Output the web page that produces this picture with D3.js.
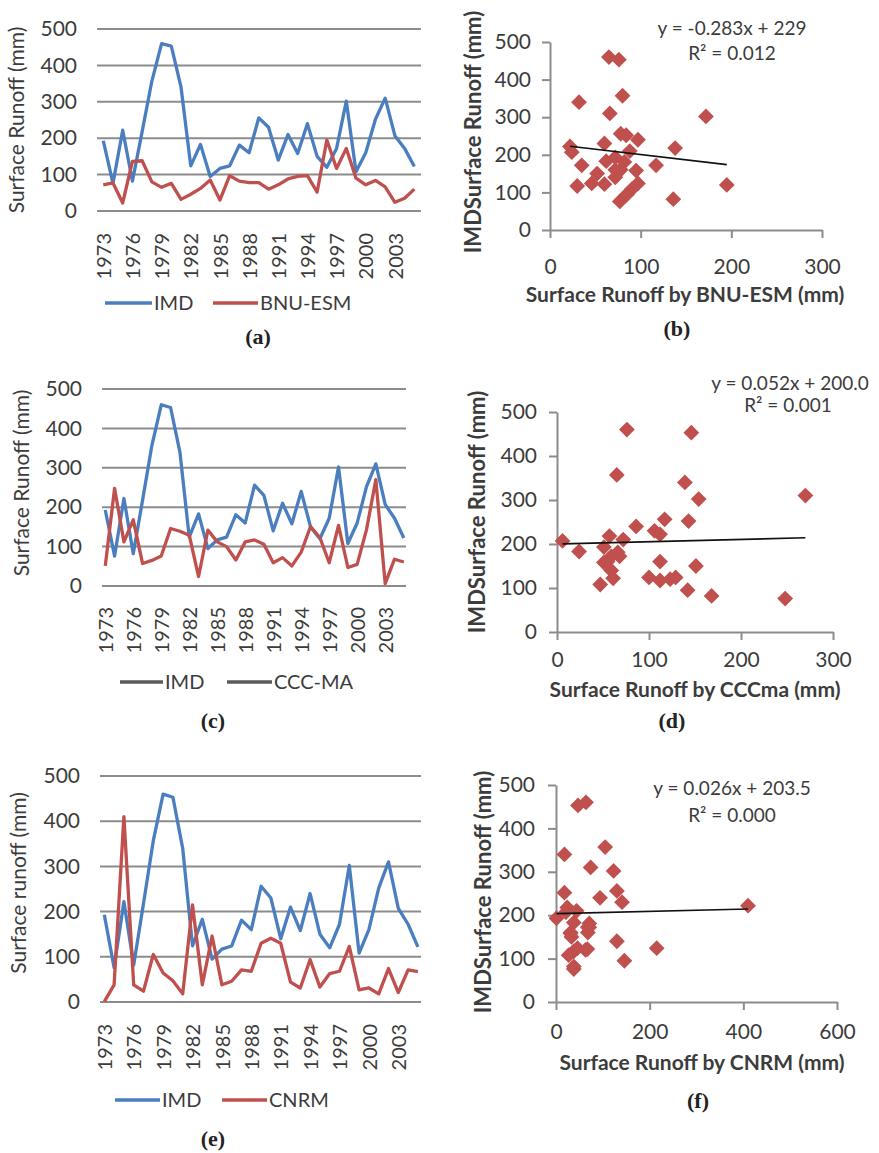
<!DOCTYPE html>
<html>
<head>
<meta charset="utf-8">
<script src="https://cdn.jsdelivr.net/npm/d3@7"></script>
<style>
  body { margin: 0; background: #fff; }
  svg { display: block; }
  text { font-family: Lato, "Open Sans", "Liberation Sans", sans-serif; }
</style>
</head>
<body>
<svg id="fig" width="879" height="1153"></svg>
<script>
// Annual surface runoff (mm), 1973-2005
const years = [1973, 1974, 1975, 1976, 1977, 1978, 1979, 1980, 1981, 1982, 1983,
               1984, 1985, 1986, 1987, 1988, 1989, 1990, 1991, 1992, 1993, 1994,
               1995, 1996, 1997, 1998, 1999, 2000, 2001, 2002, 2003, 2004, 2005];
const imd    = [193, 76, 222, 82, 218, 357, 460, 453, 340, 124, 183, 95, 117, 124, 181, 160,
                256, 230, 140, 210, 158, 240, 150, 120, 172, 302, 108, 160, 252, 310, 207, 172, 122];
const bnuEsm = [72, 77, 22, 136, 138, 80, 65, 76, 32, 46, 62, 85, 30, 97, 82, 78,
                78, 60, 72, 88, 95, 97, 52, 195, 117, 172, 90, 72, 84, 66, 24, 35, 60];
const cccMa  = [51, 248, 112, 168, 57, 65, 76, 146, 139, 129, 24, 142, 112, 100, 66, 112,
                117, 106, 59, 72, 51, 86, 151, 123, 59, 154, 47, 55, 143, 270, 6, 68, 61];
const cnrm   = [1, 38, 410, 38, 24, 105, 64, 47, 18, 215, 38, 146, 38, 46, 71, 68,
                130, 141, 130, 44, 31, 94, 33, 63, 68, 123, 27, 31, 18, 74, 21, 71, 67];

// Axis ticks
const runoffTicks = [0, 100, 200, 300, 400, 500];
const yearTicks = [1973, 1976, 1979, 1982, 1985, 1988, 1991, 1994, 1997, 2000, 2003];
const bnuTicks = [0, 100, 200, 300];
const cccTicks = [0, 100, 200, 300];
const cnrmTicks = [0, 200, 400, 600];

// Linear fits of IMD against each model
const bnuFit = { slope: -0.283, intercept: 229, eq: "y = -0.283x + 229", r2: "R\u00B2 = 0.012" };
const cccFit = { slope: 0.052, intercept: 200.0, eq: "y = 0.052x + 200.0", r2: "R\u00B2 = 0.001" };
const cnrmFit = { slope: 0.026, intercept: 203.5, eq: "y = 0.026x + 203.5", r2: "R\u00B2 = 0.000" };

const BLUE = "#4a7ebf", RED = "#c0504d", GRID = "#8c8c8c", AXIS = "#8c8c8c";
const TXT = "#3c3c3c", LEGEND_GRAY = "#5a5a5a";
const SERIF = "'Liberation Serif', 'DejaVu Serif', serif";

const svg = d3.select("#fig");

function caption(g, pos, label) {
  g.append("text").attr("x", pos[0]).attr("y", pos[1]).attr("dy", "0.35em")
    .attr("text-anchor", "middle").style("font-family", SERIF)
    .attr("font-weight", "bold").attr("font-size", 22).attr("fill", "#222").text(label);
}

function linePanel(o) {
  const g = svg.append("g");
  const x = d3.scalePoint().domain(years).range([o.left, o.right]).padding(0.5);
  const y = d3.scaleLinear().domain([0, 500]).range([o.bottom, o.top]);

  g.selectAll("line.grid").data(runoffTicks).join("line")
    .attr("x1", o.gridL).attr("x2", o.gridR)
    .attr("y1", d => y(d)).attr("y2", d => y(d))
    .attr("stroke", GRID).attr("stroke-width", 2);

  const ya = g.append("g").attr("transform", `translate(${o.gridL},0)`)
    .call(d3.axisLeft(y).tickValues(runoffTicks).tickSize(0).tickPadding(o.gridL - o.yLabelRight));
  ya.select(".domain").remove();
  ya.selectAll("text").attr("font-size", 21).attr("fill", TXT);

  const xa = g.append("g").attr("transform", `translate(0,${o.bottom})`)
    .call(d3.axisBottom(x).tickValues(yearTicks).tickSize(0));
  xa.select(".domain").remove();
  xa.selectAll("text")
    .attr("transform", "rotate(-90)")
    .attr("x", -(o.xLabelTop - o.bottom)).attr("y", 0).attr("dy", "0.36em")
    .attr("text-anchor", "end").attr("font-size", 20).attr("fill", TXT);

  o.series.forEach(s => {
    const line = d3.line().x((d, i) => x(years[i])).y(d => y(d));
    g.append("path").datum(s.values).attr("d", line)
      .attr("fill", "none").attr("stroke", s.color).attr("stroke-width", 3.3)
      .attr("stroke-linejoin", "round");
  });

  g.append("text").attr("transform", `translate(${o.yTitle[0]},${o.yTitle[1]}) rotate(-90)`)
    .attr("text-anchor", "middle").attr("dy", "0.35em").attr("font-size", 21).attr("fill", TXT)
    .text(o.yTitleText);

  o.legend.forEach(l => {
    g.append("line").attr("x1", l.x1).attr("x2", l.x2).attr("y1", o.legendY).attr("y2", o.legendY)
      .attr("stroke", l.color).attr("stroke-width", 3.3);
    g.append("text").attr("x", l.x2 + 2).attr("y", o.legendY).attr("dy", "0.36em")
      .attr("font-size", 20).attr("fill", TXT).text(l.text);
  });

  caption(g, o.caption, o.captionText);
}

function scatterPanel(o) {
  const g = svg.append("g");
  const x = d3.scaleLinear().domain([0, o.xTicks[o.xTicks.length - 1]]).range([o.left, o.right]);
  const y = d3.scaleLinear().domain([0, 500]).range([o.bottom, o.top]);

  const ya = g.append("g").attr("transform", `translate(${o.left},0)`)
    .call(d3.axisLeft(y).tickValues(runoffTicks).tickSize(8).tickSizeOuter(0)
      .tickPadding(o.left - 8 - o.yLabelRight));
  const xa = g.append("g").attr("transform", `translate(0,${o.bottom})`)
    .call(d3.axisBottom(x).tickValues(o.xTicks).tickSize(8).tickSizeOuter(0)
      .tickPadding(o.xLabelY - o.bottom - 8 - 7.5));
  [ya, xa].forEach(a => {
    a.select(".domain").attr("stroke", AXIS).attr("stroke-width", 2);
    a.selectAll(".tick line").attr("stroke", AXIS).attr("stroke-width", 2);
    a.selectAll("text").attr("font-size", 21).attr("fill", TXT);
  });

  const pts = imd.map((v, i) => ({ xv: o.model[i], yv: v }));
  const diamond = d3.symbol().type(d3.symbolSquare).size(125);
  g.selectAll("path.pt").data(pts).join("path")
    .attr("d", diamond)
    .attr("transform", d => `translate(${x(d.xv)},${y(d.yv)}) rotate(45)`)
    .attr("fill", RED);

  const xr = d3.extent(o.model);
  g.append("line")
    .attr("x1", x(xr[0])).attr("y1", y(o.fit.slope * xr[0] + o.fit.intercept))
    .attr("x2", x(xr[1])).attr("y2", y(o.fit.slope * xr[1] + o.fit.intercept))
    .attr("stroke", "#111").attr("stroke-width", 1.6);

  g.append("text").attr("x", o.eq[0]).attr("y", o.eq[1]).attr("dy", "0.35em")
    .attr("text-anchor", "middle").attr("font-size", 19).attr("fill", TXT).text(o.fit.eq);
  g.append("text").attr("x", o.r2[0]).attr("y", o.r2[1]).attr("dy", "0.35em")
    .attr("text-anchor", "middle").attr("font-size", 19).attr("fill", TXT).text(o.fit.r2);

  g.append("text").attr("x", o.xTitle[0]).attr("y", o.xTitle[1]).attr("dy", "0.35em")
    .attr("text-anchor", "middle").attr("font-size", 21).attr("font-weight", "bold")
    .attr("fill", TXT).text(o.xTitleText);
  g.append("text").attr("transform", `translate(${o.yTitle[0]},${o.yTitle[1]}) rotate(-90)`)
    .attr("text-anchor", "middle").attr("dy", "0.35em").attr("font-size", 22)
    .attr("font-weight", "bold").attr("fill", TXT).text("IMDSurface Runoff (mm)");

  caption(g, o.caption, o.captionText);
}

// (a) IMD vs BNU-ESM time series
linePanel({
  left: 98.4, right: 419.2, gridL: 97, gridR: 421, top: 29, bottom: 211,
  yLabelRight: 77, xLabelTop: 233, yTitle: [17, 120], yTitleText: "Surface Runoff (mm)",
  series: [{ values: imd, color: BLUE }, { values: bnuEsm, color: RED }],
  legendY: 303,
  legend: [{ x1: 105, x2: 152, color: BLUE, text: "IMD" }, { x1: 213, x2: 258, color: RED, text: "BNU-ESM" }],
  caption: [258, 336], captionText: "(a)"
});
// (b) scatter IMD vs BNU-ESM
scatterPanel({
  left: 550, right: 822, top: 42, bottom: 230, xTicks: bnuTicks, model: bnuEsm, fit: bnuFit,
  yLabelRight: 531, xLabelY: 267, xTitle: [685, 295], xTitleText: "Surface Runoff by BNU-ESM (mm)",
  yTitle: [473, 132], eq: [732, 28], r2: [732, 53], caption: [677, 328], captionText: "(b)"
});
// (c) IMD vs CCC-MA time series
linePanel({
  left: 100.6, right: 408.5, gridL: 102, gridR: 406, top: 389, bottom: 586,
  yLabelRight: 82, xLabelTop: 607, yTitle: [22, 483], yTitleText: "Surface Runoff (mm)",
  series: [{ values: imd, color: BLUE }, { values: cccMa, color: RED }],
  legendY: 682,
  legend: [{ x1: 120, x2: 163, color: LEGEND_GRAY, text: "IMD" }, { x1: 227, x2: 272, color: LEGEND_GRAY, text: "CCC-MA" }],
  caption: [213, 720], captionText: "(c)"
});
// (d) scatter IMD vs CCCma
scatterPanel({
  left: 557, right: 833, top: 412, bottom: 632, xTicks: cccTicks, model: cccMa, fit: cccFit,
  yLabelRight: 537, xLabelY: 660, xTitle: [695, 690], xTitleText: "Surface Runoff by CCCma (mm)",
  yTitle: [477, 512], eq: [790, 383], r2: [788, 405], caption: [672, 720], captionText: "(d)"
});
// (e) IMD vs CNRM time series
linePanel({
  left: 99.4, right: 422.8, gridL: 100, gridR: 421, top: 776, bottom: 1002,
  yLabelRight: 80, xLabelTop: 1024, yTitle: [19, 883], yTitleText: "Surface runoff (mm)",
  series: [{ values: imd, color: BLUE }, { values: cnrm, color: RED }],
  legendY: 1100,
  legend: [{ x1: 115, x2: 160, color: BLUE, text: "IMD" }, { x1: 222, x2: 267, color: RED, text: "CNRM" }],
  caption: [213, 1138], captionText: "(e)"
});
// (f) scatter IMD vs CNRM
scatterPanel({
  left: 556, right: 837, top: 785, bottom: 1002, xTicks: cnrmTicks, model: cnrm, fit: cnrmFit,
  yLabelRight: 535, xLabelY: 1032, xTitle: [702, 1063], xTitleText: "Surface Runoff by CNRM (mm)",
  yTitle: [483, 892], eq: [732, 788], r2: [732, 815], caption: [698, 1100], captionText: "(f)"
});
</script>
</body>
</html>
